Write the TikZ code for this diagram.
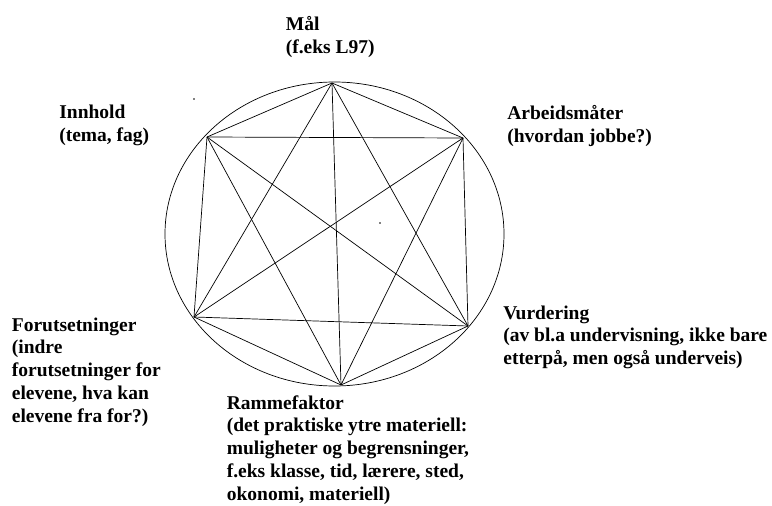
\documentclass[tikz,border=0pt]{standalone}
\usepackage{fontspec}
\setmainfont{Liberation Serif}
\begin{document}
\begin{tikzpicture}[x=1pt, y=-1pt, line width=0.7pt,
    lbl/.style={anchor=base west, inner sep=0pt, align=left,
        font=\bfseries\fontsize{19.5}{22.7}\selectfont}]
    \useasboundingbox (0,0) rectangle (772,506);
    % Circle
    \draw (334.5,234) ellipse [x radius=169.5, y radius=152];

    % Corners of the hexagon
    \coordinate (mal) at (332,83);
    \coordinate (innhold) at (207,137);
    \coordinate (arbeid) at (463,138);
    \coordinate (forut) at (194,317);
    \coordinate (vurd) at (468,326);
    \coordinate (ramme) at (341,385);

    % Every corner to every other corner
    \foreach \a/\b in {mal/innhold, mal/arbeid, mal/forut, mal/vurd, mal/ramme,
        innhold/arbeid, innhold/forut, innhold/vurd, innhold/ramme,
        arbeid/forut, arbeid/vurd, arbeid/ramme,
        forut/vurd, forut/ramme, vurd/ramme}
        \draw (\a) -- (\b);

    % Specks
    \fill (194,99) circle (0.8);
    \fill (380,223) circle (0.8);

    % Labels (placed at the baseline of their last line)
    \node[lbl] (malTxt) at (285.5,53) {Mål\\(f.eks L97)};
    \node[lbl] (innholdTxt) at (59,141.5) {Innhold\\(tema, fag)};
    \node[lbl] (arbeidTxt) at (507,142) {Arbeidsmåter\\(hvordan jobbe?)};
    \node[lbl] (forutTxt) at (11.5,422) {Forutsetninger\\(indre\\forutsetninger for\\elevene, hva kan\\elevene fra for?)};
    \node[lbl] (vurdTxt) at (503,364.5) {Vurdering\\(av bl.a undervisning, ikke bare\\etterpå, men også underveis)};
    \node[lbl] (rammeTxt) at (226.5,500) {Rammefaktor\\(det praktiske ytre materiell:\\muligheter og begrensninger,\\f.eks klasse, tid, lærere, sted,\\okonomi, materiell)};
\end{tikzpicture}
\end{document}
